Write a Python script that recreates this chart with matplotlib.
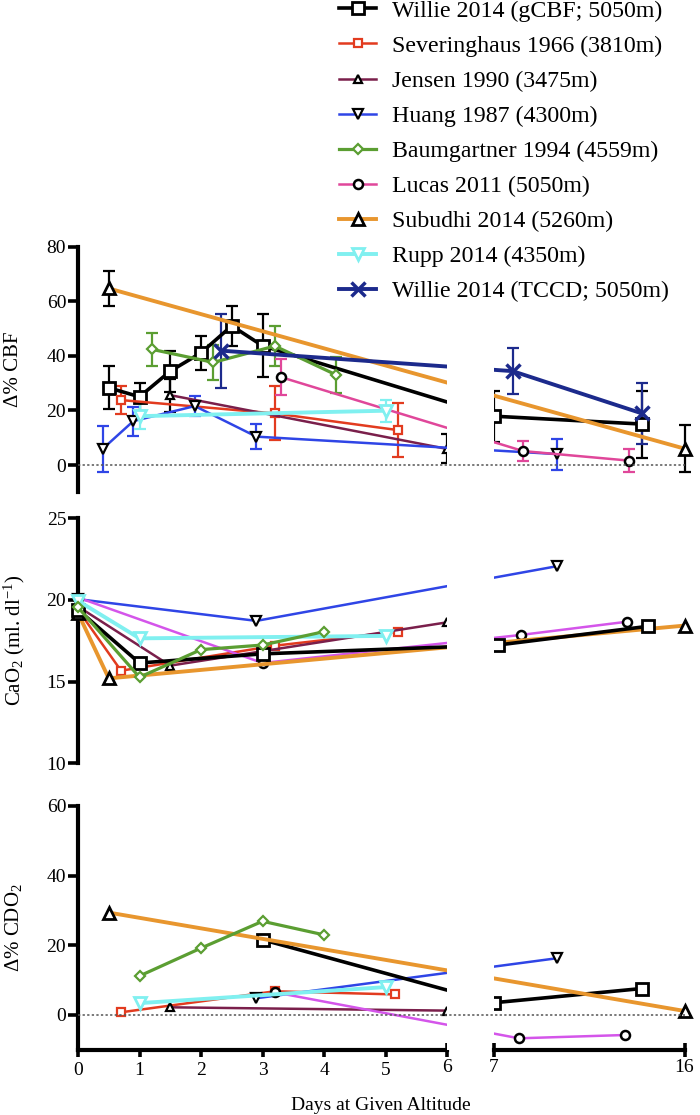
import numpy as np
import matplotlib
matplotlib.use('Agg')
import matplotlib.pyplot as plt

plt.rcParams['font.family'] = ['Liberation Serif', 'DejaVu Serif']
plt.rcParams['mathtext.fontset'] = 'custom'
plt.rcParams['mathtext.rm'] = 'Liberation Serif'
plt.rcParams['mathtext.it'] = 'Liberation Serif:italic'
plt.rcParams['mathtext.bf'] = 'Liberation Serif:bold'

# ---------------- data ----------------
study_labels = ["Willie 2014 (gCBF; 5050m)", "Severinghaus 1966 (3810m)",
                "Jensen 1990 (3475m)", "Huang 1987 (4300m)",
                "Baumgartner 1994 (4559m)", "Lucas 2011 (5050m)",
                "Subudhi 2014 (5260m)", "Rupp 2014 (4350m)",
                "Willie 2014 (TCCD; 5050m)"]

# Top panel: delta % CBF (days, mean, error)
cbf_willie_x = [0.5, 1, 1.5, 2, 2.5, 3, 7, 14]
cbf_willie_y = [28.3, 25.0, 34.4, 41.1, 51.0, 43.7, 17.9, 15.0]
cbf_willie_e = [7.9, 5.2, 7.5, 6.1, 7.4, 11.6, 9.3, 12.3]
cbf_sev_x = [0.7, 3.2, 5.2]
cbf_sev_y = [23.8, 18.9, 12.8]
cbf_sev_e = [5.2, 9.9, 9.9]
cbf_jensen_x = [1.5, 6]
cbf_jensen_y = [25.6, 5.9]
cbf_jensen_e = [6.1, 5.3]
cbf_huang_x = [0.4, 0.9, 1.9, 2.9, 10]
cbf_huang_y = [5.9, 16.1, 21.6, 10.4, 4.0]
cbf_huang_e = [8.5, 5.3, 3.6, 4.6, 5.7]
cbf_baum_x = [1.2, 2.2, 3.2, 4.2]
cbf_baum_y = [42.4, 37.6, 43.6, 33.0]
cbf_baum_e = [6.0, 6.3, 7.4, 6.5]
cbf_lucas_x = [3.3, 8.4, 13.4]
cbf_lucas_y = [32.2, 5.1, 1.6]
cbf_lucas_e = [6.6, 3.8, 4.2]
cbf_sub_x = [0.5, 16]
cbf_sub_y = [64.7, 6.0]
cbf_sub_e = [6.3, 8.7]
cbf_rupp_x = [1, 5]
cbf_rupp_y = [17.9, 19.9]
cbf_rupp_e = [4.7, 4.1]
cbf_tccd_x = [2.33, 7.9, 14]
cbf_tccd_y = [41.9, 34.4, 18.9]
cbf_tccd_e = [13.5, 8.5, 11.3]

# Middle panel: CaO2 (ml/dl)
cao2_willie_x = [0, 1, 3, 7.2, 14.3]
cao2_willie_y = [19.4, 16.14, 16.7, 17.24, 18.39]
cao2_sev_x = [0, 0.7, 3.2, 5.2]
cao2_sev_y = [19.4, 15.67, 17.2, 18.06]
cao2_jensen_x = [0, 1.5, 6]
cao2_jensen_y = [19.6, 15.98, 18.63]
cao2_huang_x = [0, 2.9, 10]
cao2_huang_y = [20.05, 18.72, 22.07]
cao2_baum_x = [0, 1, 2, 3, 4]
cao2_baum_y = [19.55, 15.27, 16.96, 17.24, 18.06]
cao2_lucas_x = [0, 3, 8.3, 13.3]
cao2_lucas_y = [20.15, 16.14, 17.86, 18.67]
cao2_sub_x = [0, 0.5, 16]
cao2_sub_y = [19.2, 15.2, 18.43]
cao2_rupp_x = [0, 1, 5]
cao2_rupp_y = [19.95, 17.65, 17.8]

# Bottom panel: delta % CDO2
cdo2_willie_x = [3, 7, 14]
cdo2_willie_y = [21.6, 3.5, 7.6]
cdo2_sev_x = [0.7, 3.2, 5.15]
cdo2_sev_y = [0.77, 6.8, 5.9]
cdo2_jensen_x = [1.5, 6]
cdo2_jensen_y = [2.2, 1.25]
cdo2_huang_x = [2.9, 10]
cdo2_huang_y = [4.8, 16.3]
cdo2_baum_x = [1, 2, 3, 4]
cdo2_baum_y = [11.2, 19.2, 26.9, 23.0]
cdo2_lucas_x = [3.2, 8.2, 13.2]
cdo2_lucas_y = [6.5, -6.7, -5.75]
cdo2_sub_x = [0.5, 16]
cdo2_sub_y = [29.4, 1.15]
cdo2_rupp_x = [1, 5]
cdo2_rupp_y = [3.4, 8.0]

x_ticks_left = [0, 1, 2, 3, 4, 5]
x_tick_left_end = [6]
x_ticks_right = [7, 16]

# ---------------- styles ----------------
C_W = '#000000'
C_SEV = '#e23b1f'
C_JEN = '#7a1f4b'
C_HUA = '#2f45e6'
C_BAU = '#5b9e32'
C_LUC = '#e0479a'
C_LUC2 = '#d455ea'
C_SUB = '#e8962e'
C_RUP = '#80f0f0'
C_TCC = '#1c2a8c'

sty = {
    'willie': dict(color=C_W, lw=2.6, marker='s', ms=9, mfc='white', mec='k', mew=2.0),
    'sev': dict(color=C_SEV, lw=1.8, marker='s', ms=5.5, mfc='white', mec=C_SEV, mew=1.6),
    'jensen': dict(color=C_JEN, lw=1.8, marker='^', ms=6, mfc='white', mec='k', mew=1.6),
    'huang': dict(color=C_HUA, lw=1.8, marker='v', ms=7, mfc='white', mec='k', mew=1.6),
    'baum': dict(color=C_BAU, lw=2.3, marker='D', ms=5.5, mfc='white', mec=C_BAU, mew=1.6),
    'lucas': dict(color=C_LUC, lw=1.8, marker='o', ms=6.5, mfc='white', mec='k', mew=1.8),
    'sub': dict(color=C_SUB, lw=2.8, marker='^', ms=9, mfc='white', mec='k', mew=2.0),
    'rupp': dict(color=C_RUP, lw=2.8, marker='v', ms=8.5, mfc='white', mec=C_RUP, mew=2.0),
    'tccd': dict(color=C_TCC, lw=2.8, marker='x', ms=10, mec=C_TCC, mew=2.5),
}
ecol = {'willie': 'k', 'sev': C_SEV, 'jensen': 'k', 'huang': C_HUA, 'baum': C_BAU,
        'lucas': C_LUC, 'sub': 'k', 'rupp': C_RUP, 'tccd': C_TCC}

# broken x scale (0-6 full, gap, 7-16 compressed)
G, K = 0.756, 0.345

def fwd(x):
    x = np.asarray(x, float)
    return np.where(x <= 6, x, np.where(x <= 7, 6 + (x - 6) * G, 6 + G + (x - 7) * K))

def inv(u):
    u = np.asarray(u, float)
    return np.where(u <= 6, u, np.where(u <= 6 + G, 6 + (u - 6) / G, 7 + (u - 6 - G) / K))

W, H = 700, 1115
X0, X1 = 78, 684.5

def rect(top, bot):
    return [X0 / W, 1 - bot / H, (X1 - X0) / W, (bot - top) / H]

fig = plt.figure(figsize=(W / 100, H / 100), dpi=100)

def setup(ax, ylim, yticks):
    ax.set_xscale('function', functions=(fwd, inv))
    ax.set_xlim(0, 16)
    ax.set_ylim(*ylim)
    ax.set_yticks(yticks)
    for s in ['top', 'right']:
        ax.spines[s].set_visible(False)
    ax.spines['left'].set_linewidth(3)
    ax.spines['bottom'].set_linewidth(3)
    ax.tick_params(axis='y', direction='out', length=7, width=2.6, labelsize=14, pad=1.5)
    ax.tick_params(axis='x', direction='out', length=5, width=2.6, labelsize=14, pad=3.5)
    ax.patch.set_visible(False)
    ax.axvspan(6, 7, color='white', zorder=4, lw=0)

ax1 = fig.add_axes(rect(246.7, 492.3))
ax2 = fig.add_axes(rect(518.3, 763.3))
ax3 = fig.add_axes(rect(806, 1049.8))
setup(ax1, (-10, 80), [0, 20, 40, 60, 80])
setup(ax2, (10, 25), [10, 15, 20, 25])
setup(ax3, (-10, 60), [0, 20, 40, 60])

for ax in (ax1, ax2):
    ax.spines['bottom'].set_visible(False)
    ax.set_xticks([])

for ax in (ax1, ax3):
    ax.axhline(0, color='#555555', lw=1.1, ls=(0, (1.5, 1.5)), zorder=4.5)

def draw(ax, key, x, y, e=None, color=None):
    st = dict(sty[key])
    if color is not None:
        st['color'] = color
    if e is not None:
        ax.errorbar(x, y, yerr=e, fmt='none', ecolor=ecol[key], elinewidth=1.6,
                    capsize=4, capthick=1.6, zorder=2.5, clip_on=False)
    ln, = ax.plot(x, y, zorder=3, clip_on=False, **st)
    return ln

handles = [
    draw(ax1, 'willie', cbf_willie_x, cbf_willie_y, cbf_willie_e),
    draw(ax1, 'sev', cbf_sev_x, cbf_sev_y, cbf_sev_e),
    draw(ax1, 'jensen', cbf_jensen_x, cbf_jensen_y, cbf_jensen_e),
    draw(ax1, 'huang', cbf_huang_x, cbf_huang_y, cbf_huang_e),
    draw(ax1, 'baum', cbf_baum_x, cbf_baum_y, cbf_baum_e),
    draw(ax1, 'lucas', cbf_lucas_x, cbf_lucas_y, cbf_lucas_e),
    draw(ax1, 'sub', cbf_sub_x, cbf_sub_y, cbf_sub_e),
    draw(ax1, 'rupp', cbf_rupp_x, cbf_rupp_y, cbf_rupp_e),
    draw(ax1, 'tccd', cbf_tccd_x, cbf_tccd_y, cbf_tccd_e),
]

draw(ax2, 'sev', cao2_sev_x, cao2_sev_y)
draw(ax2, 'jensen', cao2_jensen_x, cao2_jensen_y)
draw(ax2, 'huang', cao2_huang_x, cao2_huang_y)
draw(ax2, 'lucas', cao2_lucas_x, cao2_lucas_y, color=C_LUC2)
draw(ax2, 'sub', cao2_sub_x, cao2_sub_y)
draw(ax2, 'willie', cao2_willie_x, cao2_willie_y)
draw(ax2, 'rupp', cao2_rupp_x, cao2_rupp_y)
draw(ax2, 'baum', cao2_baum_x, cao2_baum_y)

draw(ax3, 'sev', cdo2_sev_x, cdo2_sev_y)
draw(ax3, 'jensen', cdo2_jensen_x, cdo2_jensen_y)
draw(ax3, 'huang', cdo2_huang_x, cdo2_huang_y)
draw(ax3, 'lucas', cdo2_lucas_x, cdo2_lucas_y, color=C_LUC2)
draw(ax3, 'willie', cdo2_willie_x, cdo2_willie_y)
draw(ax3, 'sub', cdo2_sub_x, cdo2_sub_y)
draw(ax3, 'rupp', cdo2_rupp_x, cdo2_rupp_y)
draw(ax3, 'baum', cdo2_baum_x, cdo2_baum_y)

# bottom x axis: left segment (0-5 outward ticks, end tick at 6 crossing the axis)
ax3.spines['bottom'].set_bounds(0, 6)
ax3.set_xticks(x_ticks_left)
ax3.set_xticklabels([str(t) for t in x_ticks_left])
ax3.set_xticks(x_tick_left_end, labels=[str(t) for t in x_tick_left_end], minor=True)
ax3.tick_params(axis='x', which='minor', direction='inout', length=10, width=2.6,
                labelsize=14, pad=3.5 - 1.8)
# right segment in an overlay axes with same scale
ax3r = fig.add_axes(rect(806, 1049.8))
ax3r.set_xscale('function', functions=(fwd, inv))
ax3r.set_xlim(0, 16)
ax3r.set_ylim(-10, 60)
ax3r.patch.set_visible(False)
for s in ['top', 'right', 'left']:
    ax3r.spines[s].set_visible(False)
ax3r.spines['bottom'].set_linewidth(3)
ax3r.spines['bottom'].set_bounds(7, 16)
ax3r.set_xticks(x_ticks_right)
ax3r.set_xticklabels([str(t) for t in x_ticks_right])
ax3r.xaxis.set_minor_locator(matplotlib.ticker.NullLocator())
ax3r.set_yticks([])
ax3r.tick_params(axis='x', direction='inout', length=10, width=2.6, labelsize=14, pad=1.7)

# labels
def ylab(ax, text):
    lab = ax.set_ylabel(text, fontsize=15)
    ax.yaxis.set_label_coords((14 - X0) / (X1 - X0), 0.5)
    lab.set_va('center')
    lab.set_ha('center')

ylab(ax1, '\u0394% CBF')
ylab(ax2, r'CaO$_\mathrm{2}$ (ml. dl$^\mathrm{-1}$)')
ylab(ax3, '\u0394% CDO' + r'$_\mathrm{2}$')

xl = ax3.set_xlabel('Days at Given Altitude', fontsize=14)
ax3.xaxis.set_label_coords(0.5, -(1105 - 1049.8) / (1049.8 - 806))
xl.set_va('center')

fig.legend(handles, study_labels, loc='upper left',
           bbox_to_anchor=(339 / W, 1.0), frameon=False, fontsize=17.2,
           handlelength=1.55, handletextpad=0.68, labelspacing=0.56,
           borderpad=0, borderaxespad=0)

fig.savefig('out.png', dpi=100)
